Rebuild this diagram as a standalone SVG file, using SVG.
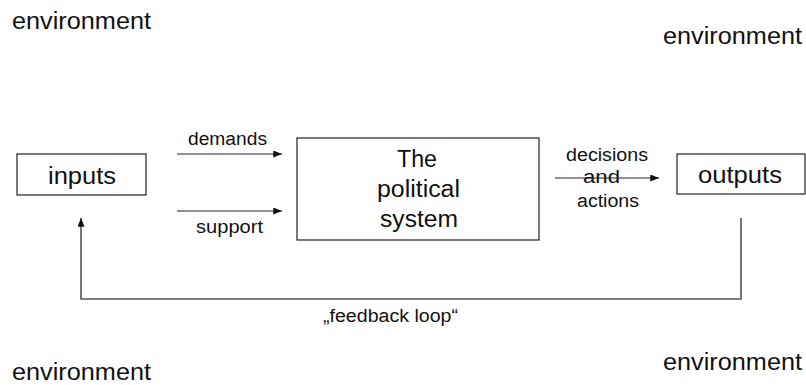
<svg xmlns="http://www.w3.org/2000/svg" width="806" height="385" viewBox="0 0 806 385">
  <style>
    text { font-family: "Liberation Sans", Arial, sans-serif; fill: #111; }
    .big { font-size: 23px; }
    .small { font-size: 18px; }
    .box { fill: #fff; stroke: #222; stroke-width: 1.2; }
    .link { fill: none; stroke: #222; stroke-width: 1.2; }
    .loop { fill: none; stroke: #555; stroke-width: 1.6; }
  </style>
  <defs>
    <marker id="arrow" viewBox="0 0 10 8" refX="10" refY="4" markerWidth="9" markerHeight="7" markerUnits="userSpaceOnUse" orient="auto">
      <path d="M0,0 L10,4 L0,8 Z" fill="#111"/>
    </marker>
  </defs>
  <rect width="806" height="385" fill="#fff"/>

  <!-- surrounding environment labels -->
  <g id="environment">
    <text class="big" x="12" y="29" textLength="139" lengthAdjust="spacingAndGlyphs">environment</text>
    <text class="big" x="663" y="44" textLength="139" lengthAdjust="spacingAndGlyphs">environment</text>
    <text class="big" x="12" y="380" textLength="139" lengthAdjust="spacingAndGlyphs">environment</text>
    <text class="big" x="663" y="370" textLength="139" lengthAdjust="spacingAndGlyphs">environment</text>
  </g>

  <g id="inputs">
    <rect class="box" x="17" y="154" width="129" height="41"/>
    <text class="big" x="48" y="184" textLength="68" lengthAdjust="spacingAndGlyphs">inputs</text>
  </g>

  <g id="political-system">
    <rect class="box" x="297" y="138" width="242" height="102"/>
    <text class="big" x="397" y="167" textLength="40" lengthAdjust="spacingAndGlyphs">The</text>
    <text class="big" x="377" y="197" textLength="83" lengthAdjust="spacingAndGlyphs">political</text>
    <text class="big" x="380" y="227" textLength="78" lengthAdjust="spacingAndGlyphs">system</text>
  </g>

  <g id="outputs">
    <rect class="box" x="677" y="154" width="128" height="40"/>
    <text class="big" x="698" y="183" textLength="84" lengthAdjust="spacingAndGlyphs">outputs</text>
  </g>

  <g id="connectors">
    <line class="link" x1="177" y1="154" x2="282" y2="154" marker-end="url(#arrow)"/>
    <line class="link" x1="177" y1="211" x2="282" y2="211" marker-end="url(#arrow)"/>
    <line class="link" x1="555" y1="178" x2="659" y2="178" marker-end="url(#arrow)"/>
    <polyline class="loop" points="741,218 741,299 81,299 81,218" marker-end="url(#arrow)"/>
  </g>

  <g id="labels">
    <text class="small" x="188" y="145" textLength="79" lengthAdjust="spacingAndGlyphs">demands</text>
    <text class="small" x="196" y="233" textLength="67" lengthAdjust="spacingAndGlyphs">support</text>
    <text class="small" x="566" y="161" textLength="82" lengthAdjust="spacingAndGlyphs">decisions</text>
    <text class="small" x="583" y="183" textLength="37" lengthAdjust="spacingAndGlyphs">and</text>
    <text class="small" x="577" y="207" textLength="62" lengthAdjust="spacingAndGlyphs">actions</text>
    <text class="small" x="323" y="322" textLength="135" lengthAdjust="spacingAndGlyphs">„feedback loop“</text>
  </g>
</svg>
